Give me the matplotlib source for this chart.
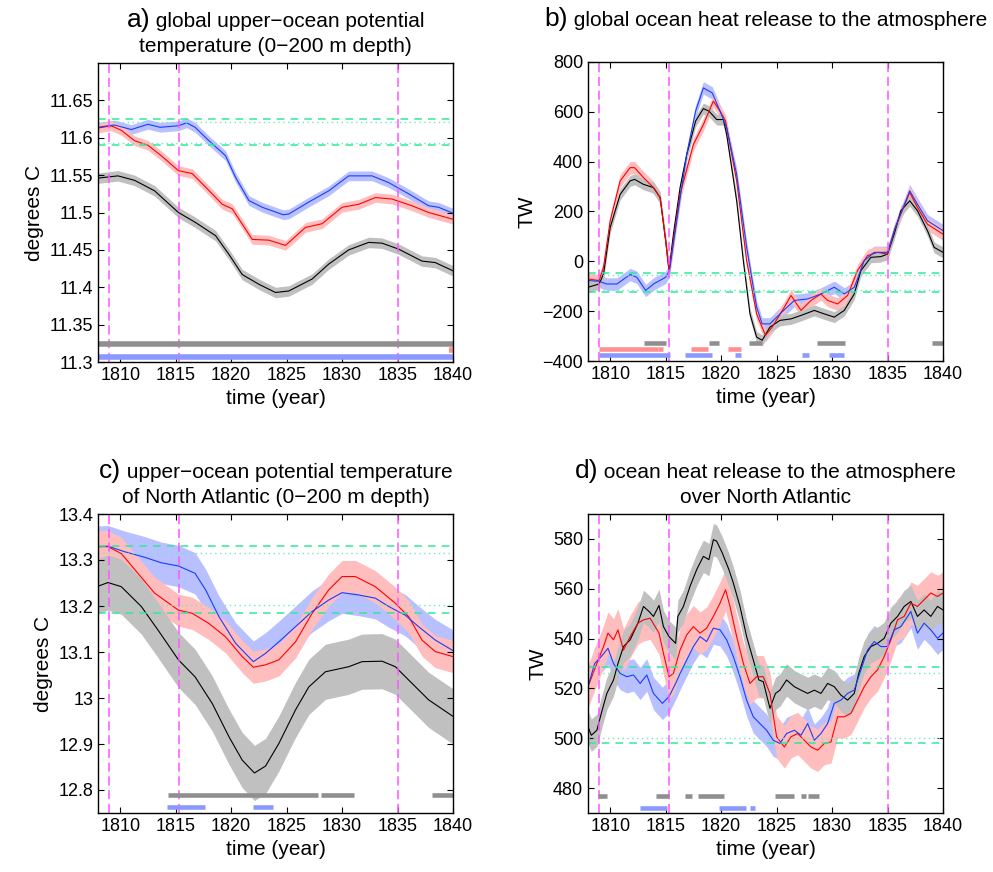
import matplotlib
matplotlib.use('Agg')
import matplotlib.pyplot as plt
import numpy as np
from matplotlib.offsetbox import TextArea, HPacker, VPacker, AnchoredOffsetbox

plt.rcParams['font.family'] = ['Liberation Sans', 'DejaVu Sans']

# erupciones (lineas verticales)
eruptions = [1809.0, 1815.3, 1835.0]

# ---------- a) temperatura global 0-200 m ----------
a_blue_t = [1808.0, 1808.9, 1809.5, 1811.0, 1812.5, 1813.6, 1815.25, 1816.0, 1816.75, 1818.0, 1819.5,
            1820.4, 1821.6, 1822.8, 1824.7, 1825.2, 1827.0, 1828.8, 1830.6, 1832.7, 1834.2, 1836.0,
            1837.8, 1838.7, 1840.0]
a_blue = [11.614, 11.616, 11.617, 11.611, 11.618, 11.614, 11.616, 11.620, 11.614, 11.596, 11.576,
          11.547, 11.516, 11.507, 11.497, 11.498, 11.514, 11.529, 11.549, 11.549, 11.540, 11.525,
          11.509, 11.507, 11.499]
a_red_t = [1808.0, 1809.2, 1810.1, 1811.3, 1812.5, 1813.7, 1815.25, 1816.5, 1817.7, 1819.2, 1820.1,
           1821.9, 1823.4, 1824.9, 1826.7, 1828.2, 1830.0, 1831.5, 1833.0, 1834.5, 1836.3, 1837.8, 1840.0]
a_red = [11.613, 11.616, 11.610, 11.596, 11.590, 11.576, 11.556, 11.552, 11.534, 11.511, 11.505,
         11.464, 11.463, 11.456, 11.480, 11.485, 11.507, 11.511, 11.520, 11.518, 11.509, 11.500, 11.491]
a_black_t = [1808.0, 1809.8, 1811.3, 1813.1, 1815.25, 1816.75, 1818.6, 1819.8, 1821.0, 1822.5, 1824.0,
             1825.2, 1827.3, 1828.8, 1830.6, 1832.4, 1833.6, 1835.1, 1837.2, 1838.4, 1840.0]
a_black = [11.546, 11.549, 11.543, 11.529, 11.500, 11.487, 11.469, 11.444, 11.417, 11.404, 11.393,
           11.395, 11.411, 11.431, 11.450, 11.460, 11.459, 11.451, 11.435, 11.433, 11.422]
a_err = {'black': 0.007, 'red': 0.0065, 'blue': 0.0065}
a_dashed = [11.625, 11.590]
a_dotted = [11.621, 11.593]
a_bars = {'gray': (11.324, [(1808.0, 1840.0)]),
          'red': (11.316, [(1839.6, 1840.0)]),
          'blue': (11.307, [(1808.0, 1840.0)])}

# ---------- b) liberacion de calor global ----------
b_black_t = [1808.0, 1809.0, 1809.4, 1810.0, 1810.9, 1811.8, 1812.2, 1813.0, 1813.9, 1814.5, 1815.0,
             1815.3, 1815.7, 1816.3, 1816.9, 1817.7, 1818.4, 1818.9, 1819.6, 1820.2, 1820.5, 1821.4,
             1822.0, 1822.6, 1823.2, 1823.7, 1824.4, 1825.3, 1826.3, 1827.2, 1828.4, 1829.3, 1830.2,
             1831.1, 1832.0, 1832.6, 1833.5, 1834.4, 1835.0, 1835.6, 1836.2, 1837.0, 1837.7, 1838.6,
             1839.2, 1840.0]
b_black = [-104, -91, -51, 136, 269, 323, 329, 309, 296, 256, 83, -37, 109, 296, 429, 563, 613, 603,
           569, 569, 509, 243, 3, -211, -304, -317, -264, -237, -231, -217, -197, -211, -224, -197,
           -131, -37, 16, 19, 29, 109, 203, 243, 203, 123, 56, 36]
b_red_t = [1808.0, 1809.0, 1809.4, 1810.0, 1810.9, 1811.8, 1812.2, 1813.0, 1813.9, 1814.5, 1815.0,
           1815.3, 1816.3, 1817.5, 1818.4, 1819.3, 1819.9, 1820.4, 1821.4, 1822.3, 1823.2, 1824.0,
           1824.6, 1825.7, 1826.3, 1827.2, 1828.1, 1829.0, 1829.6, 1830.5, 1831.4, 1832.3, 1833.2,
           1834.1, 1835.0, 1835.7, 1837.0, 1837.7, 1838.6, 1840.0]
b_red = [-71, -77, -24, 163, 323, 376, 376, 336, 296, 256, 83, -37, 269, 469, 549, 643, 603, 563,
         323, 3, -211, -297, -264, -184, -137, -197, -157, -131, -157, -171, -137, -37, 23, 36, 29,
         136, 276, 216, 149, 109]
b_blue_t = [1808.0, 1809.0, 1809.7, 1810.6, 1811.8, 1812.4, 1813.2, 1813.9, 1815.0, 1815.35, 1816.0,
            1816.9, 1817.7, 1818.4, 1819.2, 1819.9, 1820.5, 1821.4, 1822.3, 1823.2, 1823.7, 1824.4,
            1825.3, 1826.6, 1827.8, 1829.0, 1830.2, 1831.1, 1832.0, 1832.9, 1833.8, 1835.0, 1835.7,
            1837.0, 1837.7, 1838.6, 1840.0]
b_blue = [-77, -80, -91, -91, -53, -64, -117, -91, -64, -37, 163, 429, 603, 696, 676, 603, 536, 349,
          56, -184, -251, -251, -211, -157, -151, -131, -104, -131, -104, 3, 36, 36, 136, 283, 229,
          163, 123]
b_err = {'black': 22, 'red': 25, 'blue': 25}
b_dashed = [-48, -124]
b_dotted = [-55, -117]
b_bars = {'gray': (-327, [(1813.06, 1815.05), (1818.93, 1819.84), (1822.55, 1823.72),
                          (1828.6, 1831.13), (1838.99, 1840.0)]),
          'red': (-352, [(1808.99, 1814.27), (1814.33, 1814.78), (1817.31, 1818.84),
                         (1820.65, 1821.83)]),
          'blue': (-376, [(1808.99, 1815.41), (1816.77, 1819.2), (1821.28, 1821.83),
                          (1827.25, 1827.88), (1829.69, 1831.04)])}

# ---------- c) temperatura Atlantico Norte ----------
c_blue_t = [1808.0, 1808.9, 1810.4, 1812.2, 1813.7, 1815.25, 1816.75, 1817.7, 1818.9, 1820.4, 1822.0,
            1823.1, 1824.3, 1825.8, 1827.3, 1828.8, 1830.0, 1831.5, 1833.0, 1834.2, 1835.7, 1836.9,
            1838.4, 1840.0]
c_blue = [13.329, 13.330, 13.318, 13.306, 13.294, 13.287, 13.271, 13.235, 13.177, 13.119, 13.079,
          13.097, 13.122, 13.155, 13.188, 13.213, 13.229, 13.224, 13.217, 13.199, 13.180, 13.155,
          13.126, 13.103]
c_red_t = [1808.0, 1808.9, 1810.1, 1811.6, 1813.1, 1815.25, 1816.5, 1818.0, 1819.5, 1821.0, 1822.0,
           1823.1, 1824.3, 1825.8, 1827.3, 1828.8, 1830.0, 1831.2, 1833.0, 1834.8, 1836.0, 1837.2,
           1838.4, 1840.0]
c_red = [13.329, 13.329, 13.314, 13.271, 13.228, 13.191, 13.184, 13.162, 13.133, 13.090, 13.067,
         13.072, 13.083, 13.122, 13.184, 13.235, 13.264, 13.264, 13.242, 13.206, 13.177, 13.126,
         13.101, 13.090]
c_black_t = [1808.0, 1808.9, 1810.1, 1811.9, 1813.4, 1815.25, 1816.75, 1818.3, 1819.8, 1821.0, 1822.1,
             1823.1, 1824.3, 1825.8, 1827.0, 1828.5, 1830.6, 1831.8, 1833.6, 1834.8, 1836.3, 1837.8,
             1840.0]
c_black = [13.243, 13.251, 13.242, 13.199, 13.148, 13.083, 13.046, 12.988, 12.916, 12.865, 12.837,
           12.852, 12.901, 12.974, 13.024, 13.057, 13.068, 13.079, 13.080, 13.068, 13.032, 12.996,
           12.960]
c_err = {'black': 0.06, 'red': 0.035, 'blue': 0.045}
c_dashed = [13.330, 13.184]
c_dotted = [13.316, 13.203]
c_bars = {'gray': (12.789, [(1814.29, 1827.83), (1828.13, 1831.08), (1838.11, 1840.0)]),
          'blue': (12.762, [(1814.23, 1817.66), (1821.99, 1823.79)])}

# ---------- d) liberacion de calor Atlantico Norte ----------
d_black_t = [1808.0, 1808.3, 1808.8, 1809.2, 1809.7, 1810.3, 1810.7, 1811.2, 1811.8, 1812.5, 1813.0,
             1813.5, 1813.9, 1814.4, 1814.8, 1815.3, 1815.9, 1816.1, 1816.6, 1817.2, 1817.8, 1818.4,
             1818.9, 1819.3, 1819.6, 1820.1, 1820.7, 1821.1, 1821.7, 1822.3, 1822.9, 1823.4, 1823.8,
             1824.4, 1824.9, 1825.3, 1825.9, 1826.6, 1827.2, 1827.8, 1828.4, 1829.0, 1829.6, 1830.2,
             1830.8, 1831.4, 1832.0, 1832.4, 1832.9, 1833.5, 1834.1, 1834.7, 1835.3, 1835.9, 1836.5,
             1837.1, 1837.7, 1838.3, 1838.9, 1839.5, 1840.0]
d_black = [504.6, 501.2, 503.2, 510.0, 518.0, 523.4, 530.0, 536.8, 539.5, 546.2, 552.9, 550.9, 548.9,
           553.3, 544.8, 540.8, 538.1, 548.9, 552.9, 561.0, 567.7, 573.0, 571.7, 579.7, 579.1, 574.4,
           567.7, 562.3, 552.9, 540.8, 531.4, 523.4, 522.7, 512.0, 518.0, 519.3, 523.4, 520.7, 519.3,
           518.0, 519.3, 518.0, 522.0, 520.7, 517.3, 515.3, 518.0, 526.0, 532.8, 536.8, 538.1, 540.1,
           546.2, 548.9, 552.9, 554.9, 548.9, 551.5, 548.9, 552.9, 551.5]
d_red_t = [1808.0, 1808.8, 1809.4, 1809.8, 1810.3, 1810.7, 1811.2, 1811.8, 1812.5, 1813.0, 1813.6,
           1814.4, 1814.8, 1815.3, 1815.7, 1816.3, 1816.9, 1817.5, 1818.1, 1818.7, 1819.3, 1819.9,
           1820.4, 1820.8, 1821.4, 1822.0, 1822.6, 1823.2, 1823.8, 1824.4, 1825.0, 1825.7, 1826.3,
           1826.9, 1827.5, 1828.1, 1828.7, 1829.3, 1829.9, 1830.5, 1831.1, 1831.7, 1832.3, 1832.9,
           1833.5, 1834.1, 1834.7, 1835.3, 1835.9, 1836.5, 1837.1, 1837.7, 1838.3, 1838.9, 1839.5,
           1840.0]
d_red = [520.7, 530.0, 536.8, 542.2, 539.5, 543.5, 535.4, 540.8, 546.2, 547.5, 548.2, 542.2, 534.1,
         524.7, 526.0, 535.4, 541.5, 544.8, 542.2, 544.2, 548.9, 554.2, 559.6, 552.9, 540.8, 530.1,
         522.0, 524.7, 524.7, 518.0, 500.6, 496.5, 500.6, 501.9, 499.2, 496.5, 495.2, 497.9, 498.5,
         508.6, 508.6, 510.0, 515.3, 520.7, 524.7, 527.4, 532.8, 539.5, 547.5, 548.9, 554.2, 552.9,
         555.6, 558.3, 556.9, 558.3]
d_blue_t = [1808.0, 1808.6, 1809.2, 1809.8, 1810.3, 1810.9, 1811.5, 1812.1, 1812.7, 1813.3, 1813.9,
            1814.7, 1815.3, 1815.9, 1816.3, 1816.9, 1817.5, 1818.1, 1818.7, 1819.3, 1819.9, 1820.5,
            1821.1, 1821.7, 1822.3, 1822.9, 1823.5, 1824.1, 1824.7, 1825.3, 1825.9, 1826.6, 1827.2,
            1827.8, 1828.4, 1829.0, 1829.6, 1830.2, 1830.8, 1831.4, 1832.0, 1832.6, 1833.2, 1833.8,
            1834.4, 1835.0, 1835.6, 1836.2, 1837.1, 1837.7, 1838.3, 1838.9, 1839.5, 1840.0]
d_blue = [520.7, 530.0, 532.8, 536.1, 530.0, 526.0, 524.7, 525.4, 522.0, 525.4, 518.0, 514.0, 516.7,
          522.0, 526.0, 531.4, 536.8, 540.8, 538.8, 544.2, 543.5, 539.5, 532.8, 524.7, 515.3, 508.6,
          505.9, 503.2, 499.2, 497.9, 501.9, 503.2, 501.2, 505.9, 499.2, 501.9, 505.9, 514.0, 515.3,
          518.0, 519.3, 527.4, 535.4, 538.8, 536.8, 536.8, 543.5, 544.8, 550.9, 542.2, 546.2, 543.5,
          540.1, 542.2]
d_err = {'black': 6.5, 'red': 8.5, 'blue': 6.5}
d_dashed = [528.7, 498.0]
d_dotted = [526.0, 500.1]
d_bars = {'gray': (477.0, [(1808.93, 1809.69), (1814.14, 1815.32), (1816.77, 1817.4),
                           (1817.94, 1820.26), (1824.9, 1826.61), (1827.16, 1827.61),
                           (1827.79, 1828.78)]),
          'blue': (472.1, [(1812.7, 1815.14), (1819.84, 1822.28), (1822.64, 1823.09)])}

line_col = {'black': 'black', 'red': '#ff0000', 'blue': '#1a3cff'}
band_col = {'black': '#c0c0c0', 'red': '#ffbdbd', 'blue': '#b8c0ff'}
bar_col = {'gray': '#8f8f8f', 'red': '#ff8f8f', 'blue': '#8a98ff'}

fig = plt.figure(figsize=(9.93, 8.72), dpi=100)
W, H = 993.0, 872.0


def make_ax(x0, y0, x1, y1):
    return fig.add_axes([x0 / W, 1 - y1 / H, (x1 - x0) / W, (y1 - y0) / H])


def title(ax, tag, line1, line2, y):
    row1 = HPacker(children=[TextArea(tag, textprops=dict(size=19)),
                             TextArea(' ' + line1, textprops=dict(size=15))],
                   align='baseline', pad=0, sep=0)
    kids = [row1]
    if line2:
        kids.append(TextArea(line2, textprops=dict(size=15)))
    box = VPacker(children=kids, align='center', pad=0, sep=3)
    ab = AnchoredOffsetbox(loc='lower center', child=box, pad=0, borderpad=0, frameon=False,
                           bbox_to_anchor=(0.5, y), bbox_transform=ax.transAxes)
    ax.add_artist(ab)


def panel(ax, series, err, dashed, dotted, bars, bar_lw, ylim, yticks, ylabels, ylab):
    # bandas opacas: azul abajo, luego roja, luego gris encima
    for name in ['blue', 'red', 'black']:
        t, v = series[name]
        t = np.array(t)
        v = np.array(v)
        ax.fill_between(t, v - err[name], v + err[name], color=band_col[name], lw=0)
    for name in ['black', 'red', 'blue']:
        t, v = series[name]
        ax.plot(t, v, color=line_col[name], lw=0.8)
    for yv in dashed:
        ax.axhline(yv, color='#33e89a', lw=1.1, dashes=(5, 4))
    for yv in dotted:
        ax.axhline(yv, color='#66eec0', lw=1.0, dashes=(1, 2.5))
    for xv in eruptions:
        ax.axvline(xv, color='#ff55ff', lw=1.1, dashes=(6, 3))
    for key, (yv, segs) in bars.items():
        for s, e in segs:
            ax.plot([s, e], [yv, yv], color=bar_col[key], lw=bar_lw, solid_capstyle='butt')
    ax.set_xlim(1808, 1840)
    ax.set_ylim(*ylim)
    ax.set_xticks(range(1810, 1841, 5))
    ax.set_yticks(yticks)
    ax.set_yticklabels(ylabels)
    ax.tick_params(direction='in', top=True, right=True, labelsize=13, length=4, width=0.8)
    ax.set_xlabel('time (year)', fontsize=15, labelpad=4)
    ax.set_ylabel(ylab, fontsize=15)
    for sp in ax.spines.values():
        sp.set_linewidth(1.0)


ax_a = make_ax(98, 63, 453, 362)
panel(ax_a, {'black': (a_black_t, a_black), 'red': (a_red_t, a_red), 'blue': (a_blue_t, a_blue)},
      a_err, a_dashed, a_dotted, a_bars, 4.0, (11.3, 11.7),
      [11.3, 11.35, 11.4, 11.45, 11.5, 11.55, 11.6, 11.65],
      ['11.3', '11.35', '11.4', '11.45', '11.5', '11.55', '11.6', '11.65'], 'degrees C')
title(ax_a, 'a)', 'global upper\u2212ocean potential', 'temperature (0\u2212200 m depth)', 1.025)

ax_b = make_ax(588, 62, 943, 361)
panel(ax_b, {'black': (b_black_t, b_black), 'red': (b_red_t, b_red), 'blue': (b_blue_t, b_blue)},
      b_err, b_dashed, b_dotted, b_bars, 3.3, (-400, 800),
      [-400, -200, 0, 200, 400, 600, 800],
      ['\u2212400', '\u2212200', '0', '200', '400', '600', '800'], 'TW')
title(ax_b, 'b)', 'global ocean heat release to the atmosphere', None, 1.105)

ax_c = make_ax(98, 514, 453, 813)
panel(ax_c, {'black': (c_black_t, c_black), 'red': (c_red_t, c_red), 'blue': (c_blue_t, c_blue)},
      c_err, c_dashed, c_dotted, c_bars, 3.3, (12.75, 13.4),
      [12.8, 12.9, 13.0, 13.1, 13.2, 13.3, 13.4],
      ['12.8', '12.9', '13', '13.1', '13.2', '13.3', '13.4'], 'degrees C')
title(ax_c, 'c)', 'upper\u2212ocean potential temperature', 'of North Atlantic (0\u2212200 m depth)', 1.025)

ax_d = make_ax(588, 514, 943, 813)
panel(ax_d, {'black': (d_black_t, d_black), 'red': (d_red_t, d_red), 'blue': (d_blue_t, d_blue)},
      d_err, d_dashed, d_dotted, d_bars, 3.3, (470, 590),
      [480, 500, 520, 540, 560, 580],
      ['480', '500', '520', '540', '560', '580'], 'TW')
title(ax_d, 'd)', 'ocean heat release to the atmosphere', 'over North Atlantic', 1.025)

fig.savefig('out.png', dpi=100)
